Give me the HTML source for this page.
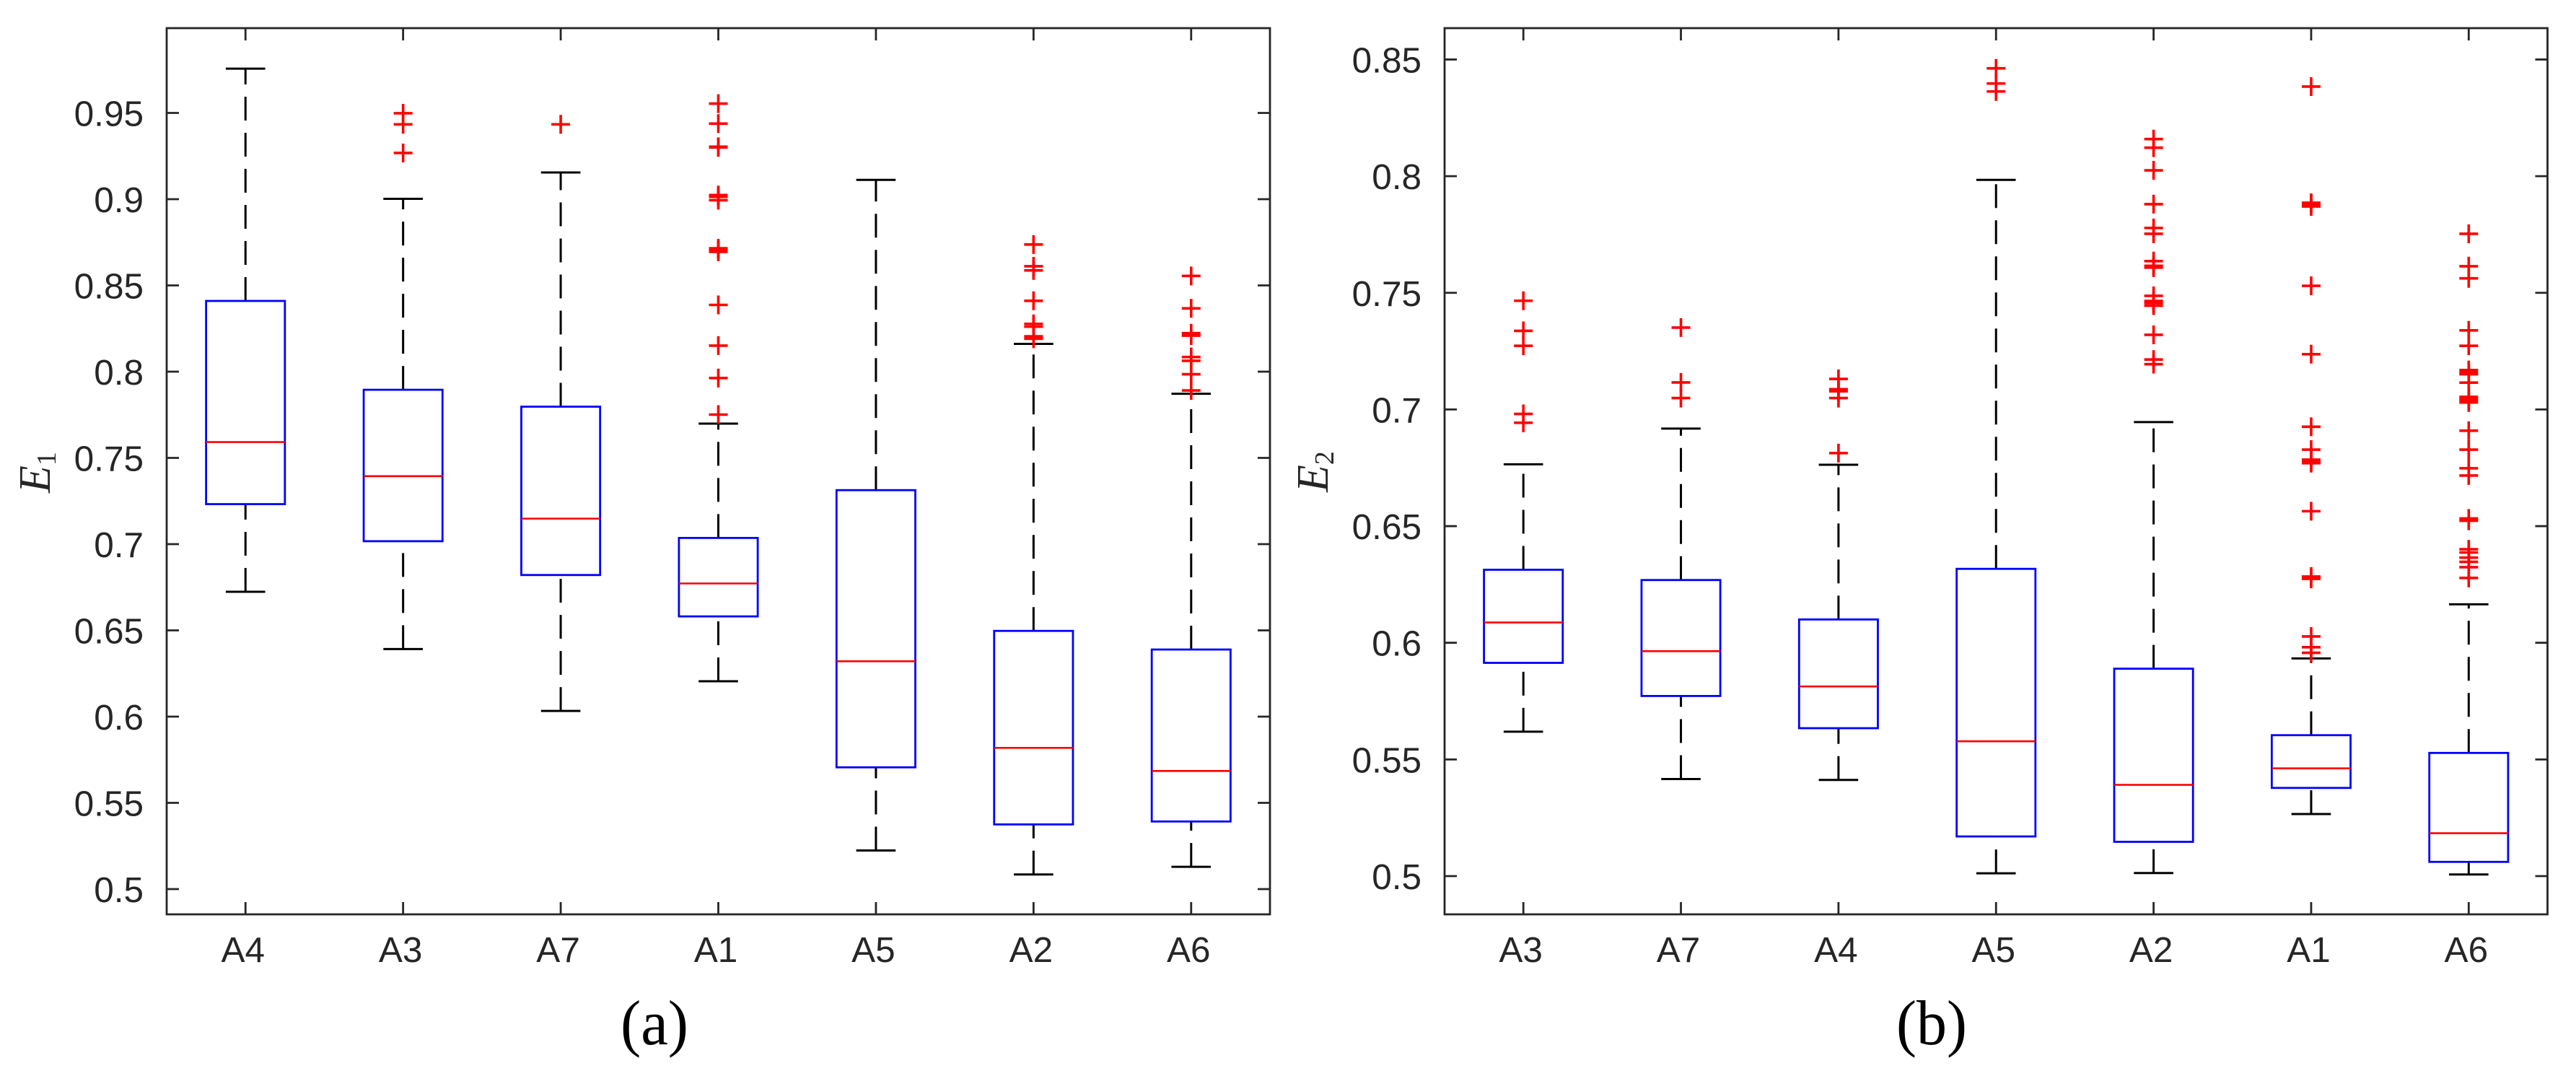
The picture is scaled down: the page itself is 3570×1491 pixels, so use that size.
<!DOCTYPE html>
<html lang="en">
<head>
<meta charset="utf-8">
<title>Box plots of E1 and E2</title>
<style>
  html, body { margin: 0; padding: 0; background: #fff; }
  svg { display: block; }
  .tick-label { font-family: "Liberation Sans", sans-serif; font-size: 49.5px; fill: #262626; }
  .caption { font-family: "Liberation Serif", serif; font-size: 88px; fill: #000; }
  .axis-title { font-family: "Liberation Serif", serif; font-style: italic; font-size: 62px; fill: #262626; }
  .axis-sub { font-family: "Liberation Serif", serif; font-style: normal; font-size: 38px; }
</style>
</head>
<body>
<svg id="figure" xmlns="http://www.w3.org/2000/svg" width="3570" height="1491" viewBox="0 0 3570 1491">
  <rect x="0" y="0" width="3570" height="1491" fill="#fff"/>
  <g id="panel-a"></g>
  <g id="panel-b"></g>
  <text class="axis-title" transform="translate(69,683) rotate(-90)">E<tspan class="axis-sub" dy="8">1</tspan></text>
  <text class="axis-title" transform="translate(1840,682) rotate(-90)">E<tspan class="axis-sub" dy="8">2</tspan></text>
  <text class="caption" x="907" y="1447" text-anchor="middle" textLength="94" lengthAdjust="spacingAndGlyphs">(a)</text>
  <text class="caption" x="2677" y="1447" text-anchor="middle" textLength="98" lengthAdjust="spacingAndGlyphs">(b)</text>
</svg>
<script>
// Panel (a) data
const categoriesA = ['A4', 'A3', 'A7', 'A1', 'A5', 'A2', 'A6'];
const whiskerHighA = [0.9757, 0.9002, 0.9155, 0.7699, 0.9112, 0.8161, 0.7872];
const q3A = [0.8410, 0.7895, 0.7797, 0.7036, 0.7313, 0.6497, 0.6389];
const medianA = [0.7592, 0.7394, 0.7148, 0.6772, 0.6321, 0.5819, 0.5685];
const q1A = [0.7232, 0.7017, 0.6821, 0.6581, 0.5706, 0.5375, 0.5392];
const whiskerLowA = [0.6724, 0.6392, 0.6033, 0.6205, 0.5224, 0.5085, 0.5129];
const outliersA = [
  [],
  [0.9498, 0.9434, 0.9268],
  [0.9434],
  [0.9554, 0.9438, 0.9304, 0.9300, 0.9024, 0.9014, 0.8994, 0.8715, 0.8705, 0.8695, 0.8387, 0.8151, 0.7963, 0.7751],
  [],
  [0.8737, 0.8611, 0.8587, 0.8411, 0.8277, 0.8261, 0.8205, 0.8191],
  [0.8555, 0.8367, 0.8223, 0.8209, 0.8085, 0.8063, 0.7985, 0.7891]
];
const yTicksA = [0.5, 0.55, 0.6, 0.65, 0.7, 0.75, 0.8, 0.85, 0.9, 0.95];
const yTickLabelsA = ['0.5', '0.55', '0.6', '0.65', '0.7', '0.75', '0.8', '0.85', '0.9', '0.95'];
const yLimA = [0.48536, 0.99916];

// Panel (b) data
const categoriesB = ['A3', 'A7', 'A4', 'A5', 'A2', 'A1', 'A6'];
const whiskerHighB = [0.6765, 0.6918, 0.6763, 0.7984, 0.6946, 0.5933, 0.6165];
const q3B = [0.6313, 0.6269, 0.6100, 0.6317, 0.5889, 0.5604, 0.5528];
const medianB = [0.6087, 0.5964, 0.5813, 0.5578, 0.5391, 0.5462, 0.5184];
const q1B = [0.5914, 0.5772, 0.5634, 0.5170, 0.5147, 0.5378, 0.5061];
const whiskerLowB = [0.5619, 0.5416, 0.5412, 0.5012, 0.5013, 0.5266, 0.5007];
const outliersB = [
  [0.7466, 0.7337, 0.7273, 0.6981, 0.6943],
  [0.7351, 0.7116, 0.7049],
  [0.7131, 0.7087, 0.7078, 0.7049, 0.6813],
  [0.8462, 0.8397, 0.8363],
  [0.8159, 0.8122, 0.8025, 0.7880, 0.7778, 0.7753, 0.7636, 0.7616, 0.7608, 0.7487, 0.7465, 0.7456, 0.7445, 0.7320, 0.7214, 0.7194],
  [0.8384, 0.7886, 0.7879, 0.7870, 0.7530, 0.7237, 0.6926, 0.6828, 0.6785, 0.6778, 0.6770, 0.6564, 0.6284, 0.6274, 0.6027, 0.5981, 0.5957],
  [0.7753, 0.7614, 0.7562, 0.7339, 0.7273, 0.7169, 0.7158, 0.7151, 0.7115, 0.7054, 0.7046, 0.7038, 0.7030, 0.6909, 0.6828, 0.6748, 0.6717, 0.6533, 0.6523, 0.6401, 0.6387, 0.6365, 0.6347, 0.6324, 0.6278]
];
const yTicksB = [0.5, 0.55, 0.6, 0.65, 0.7, 0.75, 0.8, 0.85];
const yTickLabelsB = ['0.5', '0.55', '0.6', '0.65', '0.7', '0.75', '0.8', '0.85'];
const yLimB = [0.48361, 0.86344];

const SVG_NS = 'http://www.w3.org/2000/svg';

function makeLine(parent, x1, y1, x2, y2, color, width, dash) {
  const el = document.createElementNS(SVG_NS, 'line');
  el.setAttribute('x1', x1);
  el.setAttribute('y1', y1);
  el.setAttribute('x2', x2);
  el.setAttribute('y2', y2);
  el.setAttribute('stroke', color);
  el.setAttribute('stroke-width', width);
  if (dash) el.setAttribute('stroke-dasharray', dash);
  parent.appendChild(el);
  return el;
}

function drawPanel(root, frame, cats, hi, q3, med, q1, lo, outliers, ticks, tickLabels, yLim) {
  const xScale = function (pos) {
    return frame.left + (pos - 0.5) / 7 * (frame.right - frame.left);
  };
  const yScale = function (v) {
    return frame.bottom - (v - yLim[0]) / (yLim[1] - yLim[0]) * (frame.bottom - frame.top);
  };
  const axisColor = '#262626';
  const boxHalf = 0.25;
  const capHalf = 0.125;
  const tickLen = 17;
  const plusHalf = 13;

  // Frame
  const frameRect = document.createElementNS(SVG_NS, 'rect');
  
  
  frameRect.setAttribute('x', frame.left);
  frameRect.setAttribute('y', frame.top);
  frameRect.setAttribute('width', frame.right - frame.left);
  frameRect.setAttribute('height', frame.bottom - frame.top);
  frameRect.setAttribute('fill', 'none');
  frameRect.setAttribute('stroke', axisColor);
  frameRect.setAttribute('stroke-width', 2.8);
  root.appendChild(frameRect);

  // Y ticks and labels
  ticks.forEach(function (t, i) {
    const y = yScale(t);
    const left = makeLine(root, frame.left, y, frame.left + tickLen, y, axisColor, 2.8);
    
    
    const right = makeLine(root, frame.right - tickLen, y, frame.right, y, axisColor, 2.8);
    
    
    const label = document.createElementNS(SVG_NS, 'text');
    
    
    label.setAttribute('class', 'tick-label');
    label.setAttribute('x', frame.left - 32);
    label.setAttribute('y', y + 18);
    label.setAttribute('text-anchor', 'end');
    label.textContent = tickLabels[i];
    root.appendChild(label);
  });

  // Categories
  cats.forEach(function (cat, i) {
    const pos = i + 1;
    const x = xScale(pos);
    const bottomTick = makeLine(root, x, frame.bottom - tickLen, x, frame.bottom, axisColor, 2.8);
    
    
    const topTick = makeLine(root, x, frame.top, x, frame.top + tickLen, axisColor, 2.8);
    
    

    const label = document.createElementNS(SVG_NS, 'text');
    
    
    label.setAttribute('class', 'tick-label');
    label.setAttribute('x', x - 3.5);
    label.setAttribute('y', frame.bottom + 66);
    label.setAttribute('text-anchor', 'middle');
    label.textContent = cat;
    root.appendChild(label);

    const group = document.createElementNS(SVG_NS, 'g');
    
    
    root.appendChild(group);

    const upper = makeLine(group, x, yScale(q3[i]), x, yScale(hi[i]), '#000', 3, '33 17');
    
    
    const lower = makeLine(group, x, yScale(lo[i]), x, yScale(q1[i]), '#000', 3, '33 17');
    
    
    const capHi = makeLine(group, xScale(pos - capHalf), yScale(hi[i]), xScale(pos + capHalf), yScale(hi[i]), '#000', 3);
    
    
    const capLo = makeLine(group, xScale(pos - capHalf), yScale(lo[i]), xScale(pos + capHalf), yScale(lo[i]), '#000', 3);
    
    

    const box = document.createElementNS(SVG_NS, 'rect');
    
    
    box.setAttribute('x', xScale(pos - boxHalf));
    box.setAttribute('y', yScale(q3[i]));
    box.setAttribute('width', xScale(pos + boxHalf) - xScale(pos - boxHalf));
    box.setAttribute('height', yScale(q1[i]) - yScale(q3[i]));
    box.setAttribute('fill', '#fff');
    box.setAttribute('stroke', '#0000ff');
    box.setAttribute('stroke-width', 2.8);
    group.appendChild(box);

    const medLine = makeLine(group, xScale(pos - boxHalf), yScale(med[i]), xScale(pos + boxHalf), yScale(med[i]), '#ff0000', 2.6);
    
    

    outliers[i].forEach(function (v) {
      const y = yScale(v);
      const plus = document.createElementNS(SVG_NS, 'path');
      
      
      plus.setAttribute('d', 'M' + (x - plusHalf) + ' ' + y + 'H' + (x + plusHalf) + 'M' + x + ' ' + (y - plusHalf) + 'V' + (y + plusHalf));
      plus.setAttribute('stroke', '#ff0000');
      plus.setAttribute('stroke-width', 3.6);
      plus.setAttribute('fill', 'none');
      group.appendChild(plus);
    });
  });
}

drawPanel(document.getElementById('panel-a'),
  { left: 231, right: 1760, top: 39, bottom: 1267 },
  categoriesA, whiskerHighA, q3A, medianA, q1A, whiskerLowA, outliersA,
  yTicksA, yTickLabelsA, yLimA);

drawPanel(document.getElementById('panel-b'),
  { left: 2002, right: 3530.5, top: 39, bottom: 1267 },
  categoriesB, whiskerHighB, q3B, medianB, q1B, whiskerLowB, outliersB,
  yTicksB, yTickLabelsB, yLimB);
</script>
</body>
</html>
